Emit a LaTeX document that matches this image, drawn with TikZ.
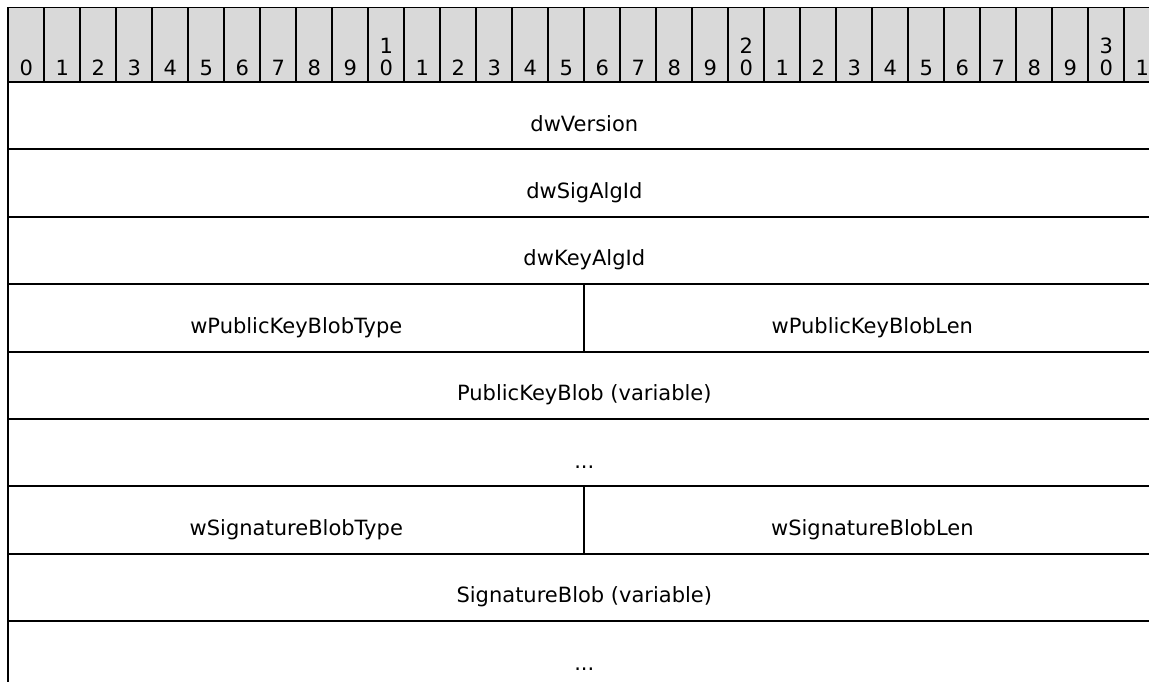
\documentclass[tikz,border=0pt]{standalone}
\usepackage{fontspec}
\setmainfont{DejaVu Sans}
\usetikzlibrary{calc}
\definecolor{hdrgray}{RGB}{217,217,217}
\tikzset{
  bitcell/.style={draw, line width=0.9pt, fill=hdrgray},
  bitnum/.style={font=\fontsize{10.5}{12}\selectfont, anchor=base, inner sep=0pt},
  field/.style={font=\fontsize{10.5}{12}\selectfont, anchor=base, inner sep=0pt},
  rowline/.style={line width=1pt}
}
\begin{document}
\begin{tikzpicture}[x=0.5pt, y=-0.5pt]
\useasboundingbox (0,0) rectangle (1149,681);
\clip (0,0) rectangle (1149,681);
\def\colw{36}
\def\rowh{67.4}

% bit ruler
\foreach \i in {0,...,31} {
  \pgfmathsetmacro\xl{8.3+\i*\colw}
  \pgfmathsetmacro\xr{8.3+(\i+1)*\colw}
  \pgfmathsetmacro\xm{8.3+(\i+0.5)*\colw}
  \pgfmathtruncatemacro\d{mod(\i,10)}
  \pgfmathtruncatemacro\t{\i/10}
  \draw[bitcell] (\xl,7.5) rectangle (\xr,82);
  \node[bitnum] (hdr\i) at (\xm,75) {\d};
  \ifnum\d=0 \ifnum\i>0
    \node[bitnum] (hdrt\i) at (\xm,53) {\t};
  \fi\fi
}

% row frame
\coordinate (tl) at (8.3,82);
\coordinate (tr) at (1160.3,82);
\coordinate (mid) at (584.3,82);
\foreach \k in {0,...,9}
  \draw[rowline] ($(tl)+(0,\k*\rowh)$) -- ($(tr)+(0,\k*\rowh)$);
\draw[rowline] (tl) -- ($(tl)+(0,9*\rowh)$);
\draw[rowline] (tr) -- ($(tr)+(0,9*\rowh)$);
\draw[rowline] ($(mid)+(0,3*\rowh)$) -- ($(mid)+(0,4*\rowh)$);
\draw[rowline] ($(mid)+(0,6*\rowh)$) -- ($(mid)+(0,7*\rowh)$);

% fields
\node[field] (version)  at (584.3,82+49)          {dwVersion};
\node[field] (sigalg)   at (584.3,82+\rowh+49)    {dwSigAlgId};
\node[field] (keyalg)   at (584.3,82+2*\rowh+49)  {dwKeyAlgId};
\node[field] (pkbtype)  at (296.3,82+3*\rowh+49)  {wPublicKeyBlobType};
\node[field] (pkblen)   at (872.3,82+3*\rowh+49)  {wPublicKeyBlobLen};
\node[field] (pkblob)   at (584.3,82+4*\rowh+49)  {PublicKeyBlob (variable)};
\node[field] (pkmore)   at (584.3,82+5*\rowh+49)  {...};
\node[field] (sigbtype) at (296.3,82+6*\rowh+49)  {wSignatureBlobType};
\node[field] (sigblen)  at (872.3,82+6*\rowh+49)  {wSignatureBlobLen};
\node[field] (sigblob)  at (584.3,82+7*\rowh+49)  {SignatureBlob (variable)};
\node[field] (sigmore)  at (584.3,82+8*\rowh+49)  {...};
\end{tikzpicture}
\end{document}
